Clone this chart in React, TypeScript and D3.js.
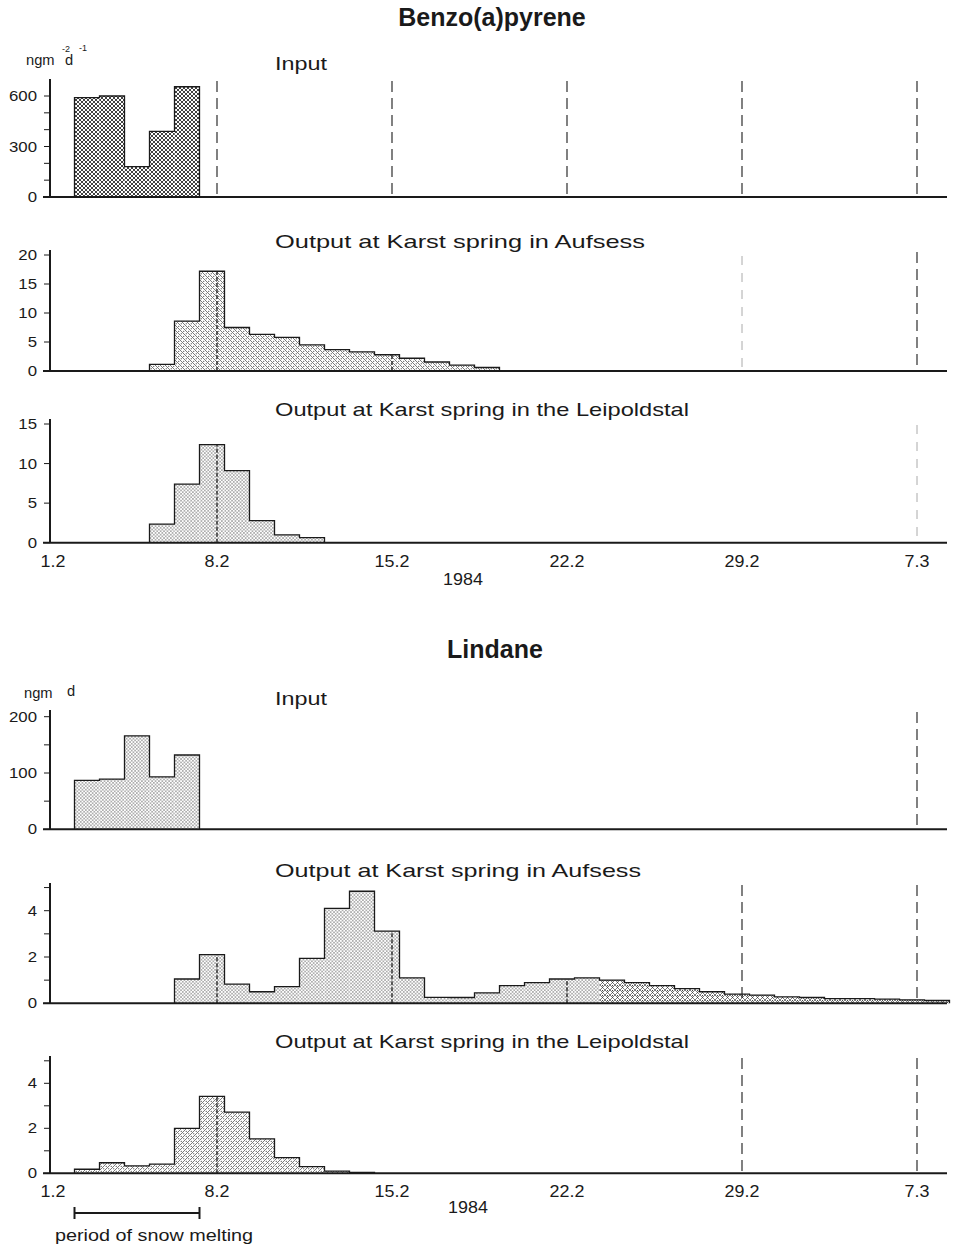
import React from 'react';
import * as d3 from 'd3';

// days counted from 1.2.1984; every sample covers one day (starts ~0.3 d after midnight)
const weekDays = [0, 7, 14, 21, 28, 35];
const weekLabels = ['1.2', '8.2', '15.2', '22.2', '29.2', '7.3'];
const snowMelt = [1, 6];

const bapInputDays = [1, 2, 3, 4, 5];
const bapInputValues = [590, 600, 180, 390, 655];

const bapAufsessDays = [4, 5, 6, 7, 8, 9, 10, 11, 12, 13, 14, 15, 16, 17];
const bapAufsessValues = [1.15, 8.6, 17.2, 7.5, 6.3, 5.8, 4.5, 3.7, 3.3, 2.8, 2.2, 1.55, 1.0, 0.6];

const bapLeipDays = [4, 5, 6, 7, 8, 9, 10];
const bapLeipValues = [2.35, 7.4, 12.4, 9.1, 2.8, 1.0, 0.65];

const linInputDays = [1, 2, 3, 4, 5];
const linInputValues = [87, 89, 166, 93, 132];

const linAufsessDays = [5, 6, 7, 8, 9, 10, 11, 12, 13, 14, 15, 16, 17, 18, 19, 20,
  21, 22, 23, 24, 25, 26, 27, 28, 29, 30, 31, 32, 33, 34, 35];
const linAufsessValues = [1.05, 2.1, 0.83, 0.5, 0.72, 1.94, 4.1, 4.84, 3.12, 1.1, 0.26, 0.25, 0.45, 0.76, 0.89, 1.05,
  1.1, 1.0, 0.89, 0.76, 0.63, 0.5, 0.4, 0.35, 0.28, 0.25, 0.2, 0.2, 0.18, 0.15, 0.12];

const linLeipDays = [1, 2, 3, 4, 5, 6, 7, 8, 9, 10, 11, 12];
const linLeipValues = [0.18, 0.47, 0.33, 0.41, 2.0, 3.42, 2.72, 1.53, 0.7, 0.3, 0.1, 0.04];

const bapInputTicks = [0, 100, 200, 300, 400, 500, 600];
const bapInputLabels = [0, 300, 600];
const bapAufsessTicks = [0, 5, 10, 15, 20];
const bapLeipTicks = [0, 5, 10, 15];
const linInputTicks = [0, 50, 100, 150, 200];
const linInputLabels = [0, 100, 200];
const linOutTicks = [0, 1, 2, 3, 4, 5];
const linOutLabels = [0, 2, 4];

const FONT = 'Liberation Sans, Arial, Helvetica, sans-serif';
const INK = '#1a1a1a';
const OFFSET = 0.3;
const X0 = 50;
const XEND = 947;

const x = d3.scaleLinear().domain([0, 35]).range([42, 917]);

const Txt = ({ x, y, size = 15, sx = 1.12, anchor = 'start', weight = 'normal', children }: any) => (
  <text
    transform={`translate(${x},${y}) scale(${sx},1)`}
    textAnchor={anchor}
    fontSize={size}
    fontWeight={weight}
    fontFamily={FONT}
    fill={INK}
  >
    {children}
  </text>
);

const panels = [
  {
    title: 'Input', titleLen: 52, titleY: 70, y0: 197, refVal: 600, refY: 96, top: 79,
    days: bapInputDays, values: bapInputValues, ticks: bapInputTicks, labels: bapInputLabels,
    pattern: 'cross', dashed: [7, 14, 21, 28, 35], faint: [],
  },
  {
    title: 'Output at Karst spring in Aufsess', titleLen: 370, titleY: 248, y0: 371, refVal: 20, refY: 255, top: 250,
    days: bapAufsessDays, values: bapAufsessValues, ticks: bapAufsessTicks, labels: bapAufsessTicks,
    pattern: 'dotHatchB', dashed: [35], faint: [28],
  },
  {
    title: 'Output at Karst spring in the Leipoldstal', titleLen: 414, titleY: 416, y0: 542.7, refVal: 15, refY: 424, top: 419,
    days: bapLeipDays, values: bapLeipValues, ticks: bapLeipTicks, labels: bapLeipTicks,
    pattern: 'dots', dashed: [], faint: [35], xLabels: true,
  },
  {
    title: 'Input', titleLen: 52, titleY: 705, y0: 829.3, refVal: 200, refY: 716.7, top: 710,
    days: linInputDays, values: linInputValues, ticks: linInputTicks, labels: linInputLabels,
    pattern: 'dots', dashed: [35], faint: [],
  },
  {
    title: 'Output at Karst spring in Aufsess', titleLen: 366, titleY: 877, y0: 1003.3, refVal: 4, refY: 910.7, top: 883,
    days: linAufsessDays, values: linAufsessValues, ticks: linOutTicks, labels: linOutLabels,
    pattern: 'dots', altPattern: 'dotCross', altFrom: 22, dashed: [28, 35], faint: [],
  },
  {
    title: 'Output at Karst spring in the Leipoldstal', titleLen: 414, titleY: 1048, y0: 1173.3, refVal: 4, refY: 1083.3, top: 1056,
    days: linLeipDays, values: linLeipValues, ticks: linOutTicks, labels: linOutLabels,
    pattern: 'dotHatchF', dashed: [28, 35], faint: [], xLabels: true,
  },
];

const Panel = ({ p }: any) => {
  const y = d3.scaleLinear().domain([0, p.refVal]).range([p.y0, p.refY]);
  const bars = p.days.map((d: number, i: number) => ({ d, v: p.values[i] }));

  // skyline outline of the histogram (no dividers between equal-height neighbours)
  const outline = d3.path();
  outline.moveTo(x(bars[0].d + OFFSET), p.y0);
  bars.forEach((b: any) => {
    outline.lineTo(x(b.d + OFFSET), y(b.v));
    outline.lineTo(x(b.d + 1 + OFFSET), y(b.v));
  });
  outline.lineTo(x(bars[bars.length - 1].d + 1 + OFFSET), p.y0);

  return (
    <g>
      <text x={275} y={p.titleY} fontSize={19} fontFamily={FONT} fill={INK}
        textLength={p.titleLen} lengthAdjust="spacingAndGlyphs">{p.title}</text>

      {bars.map((b: any) => (
        <rect key={b.d}
          x={x(b.d + OFFSET)} y={y(b.v)}
          width={x(b.d + 1 + OFFSET) - x(b.d + OFFSET)} height={p.y0 - y(b.v)}
          fill={`url(#${p.altPattern && b.d >= p.altFrom ? p.altPattern : p.pattern})`} />
      ))}
      <path d={outline.toString()} fill="none" stroke={INK} strokeWidth={1.3} />

      {/* date marks showing through the bars */}
      {weekDays.slice(1).map((w) => {
        const b = bars.find((b: any) => w >= b.d + OFFSET && w < b.d + 1 + OFFSET);
        if (!b || p.dashed.includes(w)) return null;
        return <line key={'in' + w} x1={x(w)} x2={x(w)} y1={p.y0} y2={y(b.v)}
          stroke={INK} strokeWidth={1.3} strokeDasharray="4 2" />;
      })}

      {p.dashed.map((w: number) => (
        <line key={'d' + w} x1={x(w)} x2={x(w)} y1={p.top + 2} y2={p.y0}
          stroke={INK} strokeWidth={1.1} strokeDasharray="11 6" />
      ))}
      {p.faint.map((w: number) => (
        <line key={'f' + w} x1={x(w)} x2={x(w)} y1={p.top + 6} y2={p.y0 - 4}
          stroke="#555" strokeWidth={0.9} strokeDasharray="9 8" opacity={0.55} />
      ))}

      <line x1={X0} x2={X0} y1={p.top} y2={p.y0} stroke={INK} strokeWidth={2} />
      <line x1={X0 - 7} x2={XEND} y1={p.y0} y2={p.y0} stroke={INK} strokeWidth={2} />
      {p.ticks.map((t: number) => (
        <line key={'t' + t} x1={X0 - 6} x2={X0} y1={y(t)} y2={y(t)} stroke={INK} strokeWidth={1} />
      ))}
      {p.labels.map((t: number) => (
        <Txt key={'l' + t} x={37} y={y(t) + 5} anchor="end">{t}</Txt>
      ))}

      {p.xLabels && weekDays.map((w, i) => (
        <Txt key={'x' + w} x={w === 0 ? X0 + 3 : x(w)} y={p.y0 + 24} size={16} anchor="middle">{weekLabels[i]}</Txt>
      ))}
    </g>
  );
};

const App = () => {
  const melt0 = x(snowMelt[0] + OFFSET);
  const melt1 = x(snowMelt[1] + OFFSET);
  return (
    <svg width={957} height={1248} style={{ position: 'absolute', left: 0, top: 0, background: '#fff' }}>
      <defs>
        <pattern id="cross" width={4} height={4} patternUnits="userSpaceOnUse">
          <rect width={4} height={4} fill="#fff" />
          <path d="M0,0L4,4M4,0L0,4" stroke="#111" strokeWidth={0.8} />
        </pattern>
        <pattern id="dots" width={3.4} height={3.4} patternUnits="userSpaceOnUse">
          <rect width={3.4} height={3.4} fill="#fff" />
          <circle cx={0.85} cy={0.85} r={0.6} fill="#222" />
          <circle cx={2.55} cy={2.55} r={0.6} fill="#222" />
        </pattern>
        <pattern id="dotHatchB" width={5} height={5} patternUnits="userSpaceOnUse">
          <rect width={5} height={5} fill="#fff" />
          <circle cx={1.25} cy={3.75} r={0.6} fill="#222" />
          <circle cx={3.75} cy={1.25} r={0.6} fill="#222" />
          <path d="M0,0L5,5M-1,4L1,6M4,-1L6,1" stroke="#222" strokeWidth={0.6} />
        </pattern>
        <pattern id="dotHatchF" width={5} height={5} patternUnits="userSpaceOnUse">
          <rect width={5} height={5} fill="#fff" />
          <circle cx={1.25} cy={1.25} r={0.6} fill="#222" />
          <circle cx={3.75} cy={3.75} r={0.6} fill="#222" />
          <path d="M0,5L5,0M-1,1L1,-1M4,6L6,4" stroke="#222" strokeWidth={0.6} />
        </pattern>
        <pattern id="dotCross" width={5} height={5} patternUnits="userSpaceOnUse">
          <rect width={5} height={5} fill="#fff" />
          <circle cx={2.5} cy={0.6} r={0.55} fill="#222" />
          <path d="M0,0L5,5M5,0L0,5" stroke="#222" strokeWidth={0.6} />
        </pattern>
      </defs>

      <Txt x={492} y={26} size={25} sx={1} anchor="middle" weight="bold">Benzo(a)pyrene</Txt>
      <Txt x={26} y={65} size={14} sx={1.05}>ngm</Txt>
      <Txt x={62} y={52} size={9} sx={1}>-2</Txt>
      <Txt x={65} y={65} size={14} sx={1.05}>d</Txt>
      <Txt x={79} y={51} size={9} sx={1}>-1</Txt>

      <Txt x={495} y={658} size={25} sx={1} anchor="middle" weight="bold">Lindane</Txt>
      <Txt x={24} y={698} size={14} sx={1.05}>ngm</Txt>
      <Txt x={67} y={696} size={14} sx={1.05}>d</Txt>

      {panels.map((p, i) => <Panel key={i} p={p} />)}

      <Txt x={463} y={585} size={16} anchor="middle">1984</Txt>
      <Txt x={468} y={1213} size={16} anchor="middle">1984</Txt>

      <line x1={melt0} x2={melt1} y1={1213} y2={1213} stroke={INK} strokeWidth={2} />
      <line x1={melt0} x2={melt0} y1={1207} y2={1219} stroke={INK} strokeWidth={2} />
      <line x1={melt1} x2={melt1} y1={1207} y2={1219} stroke={INK} strokeWidth={2} />
      <Txt x={55} y={1241} size={16.5} sx={1.2}>period of snow melting</Txt>
    </svg>
  );
};

export default App;
